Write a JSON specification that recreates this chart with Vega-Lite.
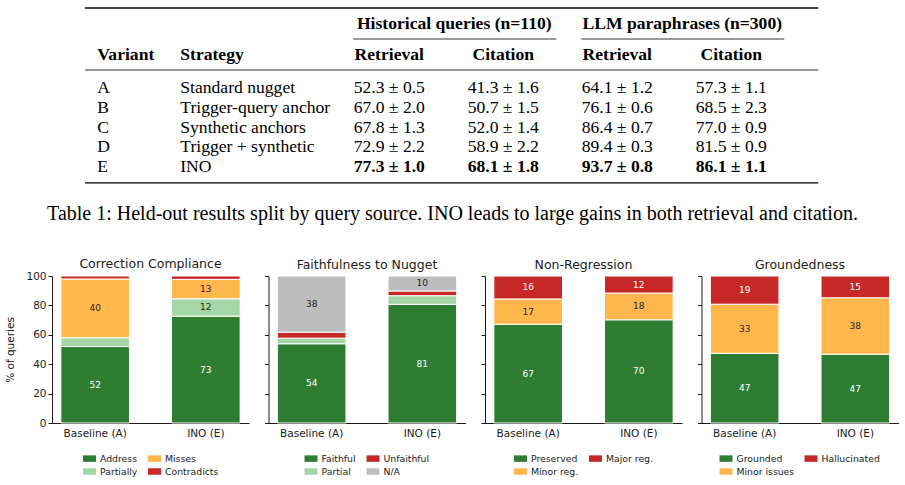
{
  "$schema": "https://vega.github.io/schema/vega-lite/v6.json",
  "padding": {"left": 5, "right": 5, "top": 7, "bottom": 5},
  "datasets": {
    "results": [
      {"variant": "A", "strategy": "Standard nugget", "hist_retrieval": "52.3 ± 0.5", "hist_citation": "41.3 ± 1.6", "llm_retrieval": "64.1 ± 1.2", "llm_citation": "57.3 ± 1.1"},
      {"variant": "B", "strategy": "Trigger-query anchor", "hist_retrieval": "67.0 ± 2.0", "hist_citation": "50.7 ± 1.5", "llm_retrieval": "76.1 ± 0.6", "llm_citation": "68.5 ± 2.3"},
      {"variant": "C", "strategy": "Synthetic anchors", "hist_retrieval": "67.8 ± 1.3", "hist_citation": "52.0 ± 1.4", "llm_retrieval": "86.4 ± 0.7", "llm_citation": "77.0 ± 0.9"},
      {"variant": "D", "strategy": "Trigger + synthetic", "hist_retrieval": "72.9 ± 2.2", "hist_citation": "58.9 ± 2.2", "llm_retrieval": "89.4 ± 0.3", "llm_citation": "81.5 ± 0.9"},
      {"variant": "E", "strategy": "INO", "hist_retrieval": "77.3 ± 1.0", "hist_citation": "68.1 ± 1.8", "llm_retrieval": "93.7 ± 0.8", "llm_citation": "86.1 ± 1.1"}
    ],
    "header": [
      {"row": "group", "col": "hist_citation", "label": "Historical queries (n=110)"},
      {"row": "group", "col": "llm_citation", "label": "LLM paraphrases (n=300)"},
      {"row": "head", "col": "variant", "label": "Variant"},
      {"row": "head", "col": "strategy", "label": "Strategy"},
      {"row": "head", "col": "hist_retrieval", "label": "Retrieval"},
      {"row": "head", "col": "hist_citation", "label": "Citation"},
      {"row": "head", "col": "llm_retrieval", "label": "Retrieval"},
      {"row": "head", "col": "llm_citation", "label": "Citation"}
    ],
    "spans": [
      {"row": "group", "from": "hist_retrieval", "to": "hist_citation"},
      {"row": "group", "from": "llm_retrieval", "to": "llm_citation"}
    ],
    "bars": [
      {"panel": "Correction Compliance", "system": "Baseline (A)", "category": "Address", "k": 0, "pct": 52},
      {"panel": "Correction Compliance", "system": "Baseline (A)", "category": "Partially", "k": 1, "pct": 6},
      {"panel": "Correction Compliance", "system": "Baseline (A)", "category": "Misses", "k": 2, "pct": 40},
      {"panel": "Correction Compliance", "system": "Baseline (A)", "category": "Contradicts", "k": 3, "pct": 2},
      {"panel": "Correction Compliance", "system": "INO (E)", "category": "Address", "k": 0, "pct": 72.7},
      {"panel": "Correction Compliance", "system": "INO (E)", "category": "Partially", "k": 1, "pct": 11.8},
      {"panel": "Correction Compliance", "system": "INO (E)", "category": "Misses", "k": 2, "pct": 13.2},
      {"panel": "Correction Compliance", "system": "INO (E)", "category": "Contradicts", "k": 3, "pct": 2.3},
      {"panel": "Faithfulness to Nugget", "system": "Baseline (A)", "category": "Faithful", "k": 0, "pct": 53.9},
      {"panel": "Faithfulness to Nugget", "system": "Baseline (A)", "category": "Partial", "k": 1, "pct": 3.8},
      {"panel": "Faithfulness to Nugget", "system": "Baseline (A)", "category": "Unfaithful", "k": 2, "pct": 4.1},
      {"panel": "Faithfulness to Nugget", "system": "Baseline (A)", "category": "N/A", "k": 3, "pct": 38.2},
      {"panel": "Faithfulness to Nugget", "system": "INO (E)", "category": "Faithful", "k": 0, "pct": 80.7},
      {"panel": "Faithfulness to Nugget", "system": "INO (E)", "category": "Partial", "k": 1, "pct": 5.9},
      {"panel": "Faithfulness to Nugget", "system": "INO (E)", "category": "Unfaithful", "k": 2, "pct": 3.2},
      {"panel": "Faithfulness to Nugget", "system": "INO (E)", "category": "N/A", "k": 3, "pct": 10.2},
      {"panel": "Non-Regression", "system": "Baseline (A)", "category": "Preserved", "k": 0, "pct": 67.2},
      {"panel": "Non-Regression", "system": "Baseline (A)", "category": "Minor reg.", "k": 1, "pct": 17.2},
      {"panel": "Non-Regression", "system": "Baseline (A)", "category": "Major reg.", "k": 2, "pct": 15.6},
      {"panel": "Non-Regression", "system": "INO (E)", "category": "Preserved", "k": 0, "pct": 70.2},
      {"panel": "Non-Regression", "system": "INO (E)", "category": "Minor reg.", "k": 1, "pct": 18.2},
      {"panel": "Non-Regression", "system": "INO (E)", "category": "Major reg.", "k": 2, "pct": 11.6},
      {"panel": "Groundedness", "system": "Baseline (A)", "category": "Grounded", "k": 0, "pct": 47.4},
      {"panel": "Groundedness", "system": "Baseline (A)", "category": "Minor issues", "k": 1, "pct": 33.4},
      {"panel": "Groundedness", "system": "Baseline (A)", "category": "Hallucinated", "k": 2, "pct": 19.2},
      {"panel": "Groundedness", "system": "INO (E)", "category": "Grounded", "k": 0, "pct": 46.8},
      {"panel": "Groundedness", "system": "INO (E)", "category": "Minor issues", "k": 1, "pct": 38.4},
      {"panel": "Groundedness", "system": "INO (E)", "category": "Hallucinated", "k": 2, "pct": 14.8}
    ]
  },
  "concat": [
    {
      "spacing": 0,
      "vconcat": [
        {
          "width": 801,
          "height": 62,
          "layer": [
            {
              "data": {"name": "header"},
              "transform": [{"filter": "datum.row === 'group'"}],
              "mark": {"type": "text", "font": "Liberation Serif", "fontSize": 17.6, "fontWeight": "bold", "color": "black", "baseline": "middle", "dx": 8},
              "encoding": {
                "x": {"field": "col", "type": "nominal", "bandPosition": 0, "axis": null,
                      "scale": {"type": "band", "domain": ["variant", "strategy", "hist_retrieval", "hist_citation", "llm_retrieval", "llm_citation"], "paddingInner": 0, "paddingOuter": 0.5132, "align": 0.4466}},
                "y": {"field": "row", "type": "nominal", "axis": null, "scale": {"type": "band", "domain": ["group", "head"], "paddingInner": 0, "paddingOuter": 0}},
                "text": {"field": "label"}
              }
            },
            {
              "data": {"name": "header"},
              "transform": [{"filter": "datum.col === 'variant'"}],
              "mark": {"type": "text", "font": "Liberation Serif", "fontSize": 17.6, "fontWeight": "bold", "color": "black", "baseline": "middle", "align": "left", "dx": -7},
              "encoding": {
                "x": {"field": "col", "type": "nominal", "bandPosition": 0, "axis": null},
                "y": {"field": "row", "type": "nominal", "axis": null},
                "text": {"field": "label"}
              }
            },
            {
              "data": {"name": "header"},
              "transform": [{"filter": "datum.col === 'strategy'"}],
              "mark": {"type": "text", "font": "Liberation Serif", "fontSize": 17.6, "fontWeight": "bold", "color": "black", "baseline": "middle", "align": "left", "dx": -38},
              "encoding": {
                "x": {"field": "col", "type": "nominal", "bandPosition": 0, "axis": null},
                "y": {"field": "row", "type": "nominal", "axis": null},
                "text": {"field": "label"}
              }
            },
            {
              "data": {"name": "header"},
              "transform": [{"filter": "datum.row === 'head' && datum.col !== 'variant' && datum.col !== 'strategy'"}],
              "mark": {"type": "text", "font": "Liberation Serif", "fontSize": 17.6, "fontWeight": "bold", "color": "black", "baseline": "middle"},
              "encoding": {
                "x": {"field": "col", "type": "nominal", "bandPosition": 0.5, "axis": null},
                "y": {"field": "row", "type": "nominal", "axis": null},
                "text": {"field": "label"}
              }
            },
            {
              "data": {"name": "spans"},
              "mark": {"type": "rule", "color": "black", "strokeWidth": 0.8, "xOffset": 21, "x2Offset": -4},
              "encoding": {
                "x": {"field": "from", "type": "nominal", "bandPosition": 0, "axis": null},
                "x2": {"field": "to", "bandPosition": 1},
                "y": {"field": "row", "type": "nominal", "bandPosition": 1, "axis": null}
              }
            },
            {
              "data": {"values": [{"row": "group", "from": "variant", "to": "llm_citation"}]},
              "mark": {"type": "rule", "color": "black", "strokeWidth": 1.3, "xOffset": -19.25, "x2Offset": 30},
              "encoding": {
                "x": {"field": "from", "type": "nominal", "bandPosition": 0, "axis": null},
                "x2": {"field": "to", "bandPosition": 1},
                "y": {"field": "row", "type": "nominal", "bandPosition": 0, "axis": null}
              }
            },
            {
              "data": {"values": [{"row": "head", "from": "variant", "to": "llm_citation"}]},
              "mark": {"type": "rule", "color": "black", "strokeWidth": 0.8, "xOffset": -19.25, "x2Offset": 30},
              "encoding": {
                "x": {"field": "from", "type": "nominal", "bandPosition": 0, "axis": null},
                "x2": {"field": "to", "bandPosition": 1},
                "y": {"field": "row", "type": "nominal", "bandPosition": 1, "axis": null}
              }
            }
          ]
        },
        {
          "width": 801,
          "height": 113,
          "data": {"name": "results"},
          "title": {
            "text": "Table 1: Held-out results split by query source. INO leads to large gains in both retrieval and citation.",
            "orient": "bottom", "anchor": "middle", "font": "Liberation Serif", "fontSize": 20, "fontWeight": "normal", "color": "black", "offset": 20
          },
          "encoding": {
            "y": {"field": "variant", "type": "nominal", "axis": null, "scale": {"type": "band", "domain": ["A", "B", "C", "D", "E"], "paddingInner": 0, "paddingOuter": 0.365}}
          },
          "layer": [
            {
              "transform": [{"fold": ["variant"], "as": ["col", "cell"]}],
              "mark": {"type": "text", "font": "Liberation Serif", "fontSize": 17.6, "color": "black", "baseline": "middle", "align": "left", "dx": -7},
              "encoding": {
                "x": {"field": "col", "type": "nominal", "bandPosition": 0, "axis": null,
                      "scale": {"type": "band", "domain": ["variant", "strategy", "hist_retrieval", "hist_citation", "llm_retrieval", "llm_citation"], "paddingInner": 0, "paddingOuter": 0.5132, "align": 0.4466}},
                "text": {"field": "cell"}
              }
            },
            {
              "transform": [{"fold": ["strategy"], "as": ["col", "cell"]}],
              "mark": {"type": "text", "font": "Liberation Serif", "fontSize": 17.6, "color": "black", "baseline": "middle", "align": "left", "dx": -38},
              "encoding": {
                "x": {"field": "col", "type": "nominal", "bandPosition": 0, "axis": null},
                "text": {"field": "cell"}
              }
            },
            {
              "transform": [
                {"filter": "datum.variant !== 'E'"},
                {"fold": ["hist_retrieval", "hist_citation", "llm_retrieval", "llm_citation"], "as": ["col", "cell"]}
              ],
              "mark": {"type": "text", "font": "Liberation Serif", "fontSize": 17.6, "color": "black", "baseline": "middle"},
              "encoding": {
                "x": {"field": "col", "type": "nominal", "bandPosition": 0.5, "axis": null},
                "text": {"field": "cell"}
              }
            },
            {
              "transform": [
                {"filter": "datum.variant === 'E'"},
                {"fold": ["hist_retrieval", "hist_citation", "llm_retrieval", "llm_citation"], "as": ["col", "cell"]}
              ],
              "mark": {"type": "text", "font": "Liberation Serif", "fontSize": 17.6, "fontWeight": "bold", "color": "black", "baseline": "middle"},
              "encoding": {
                "x": {"field": "col", "type": "nominal", "bandPosition": 0.5, "axis": null},
                "text": {"field": "cell"}
              }
            },
            {
              "data": {"values": [{"variant": "E", "from": "variant", "to": "llm_citation"}]},
              "mark": {"type": "rule", "color": "black", "strokeWidth": 1.3, "xOffset": -19.25, "x2Offset": 30, "yOffset": 6},
              "encoding": {
                "x": {"field": "from", "type": "nominal", "bandPosition": 0, "axis": null},
                "x2": {"field": "to", "bandPosition": 1},
                "y": {"field": "variant", "type": "nominal", "bandPosition": 1, "axis": null}
              }
            }
          ]
        }
      ]
    },
    {
      "spacing": 14.5,
      "resolve": {"scale": {"color": "independent", "y": "independent", "x": "independent"}, "legend": {"color": "independent"}},
      "hconcat": [
        {
          "width": 197, "height": 147,
          "title": {"text": "Correction Compliance", "offset": 1},
          "data": {"name": "bars"},
          "transform": [{"filter": "datum.panel === 'Correction Compliance'"}],
          "encoding": {
            "x": {"field": "system", "type": "nominal", "sort": ["Baseline (A)", "INO (E)"], "scale": {"paddingInner": 0.38, "paddingOuter": 0.08},
                  "axis": {"title": null, "labelAngle": 0, "ticks": false, "labelPadding": 5}},
            "y": {"field": "pct", "type": "quantitative", "stack": "zero", "scale": {"domain": [0, 100]},
                  "axis": {"title": "% of queries", "values": [0, 20, 40, 60, 80, 100], "tickSize": 4, "labelPadding": 2, "titlePadding": 10}},
            "order": {"field": "k", "type": "quantitative"}
          },
          "layer": [
            {
              "mark": {"type": "bar", "stroke": "white", "strokeWidth": 1},
              "encoding": {
                "color": {"field": "category", "type": "nominal",
                          "scale": {"domain": ["Address", "Misses", "Partially", "Contradicts"], "range": ["#2e7d32", "#ffb74d", "#a5d6a7", "#c62828"]},
                          "legend": {"title": null}}
              }
            },
            {
              "mark": {"type": "text", "font": "DejaVu Sans", "fontSize": 9, "baseline": "middle"},
              "encoding": {
                "y": {"field": "pct", "type": "quantitative", "stack": "zero", "bandPosition": 0.5},
                "detail": {"field": "category"},
                "text": {"field": "pct", "type": "quantitative", "format": ".0f", "condition": {"test": "datum.pct < 8", "value": ""}},
                "color": {"condition": {"test": "indexof(['Address','Contradicts','Faithful','Unfaithful','Preserved','Major reg.','Grounded','Hallucinated'], datum.category) >= 0", "value": "white"}, "value": "#262626"}
              }
            }
          ]
        },
        {
          "width": 197, "height": 147,
          "title": {"text": "Faithfulness to Nugget", "offset": 4},
          "data": {"name": "bars"},
          "transform": [{"filter": "datum.panel === 'Faithfulness to Nugget'"}],
          "encoding": {
            "x": {"field": "system", "type": "nominal", "sort": ["Baseline (A)", "INO (E)"], "scale": {"paddingInner": 0.38, "paddingOuter": 0.08},
                  "axis": {"title": null, "labelAngle": 0, "ticks": false, "labelPadding": 5}},
            "y": {"field": "pct", "type": "quantitative", "stack": "zero", "scale": {"domain": [0, 100]},
                  "axis": {"title": null, "labels": false, "values": [0, 20, 40, 60, 80, 100], "tickSize": 4}},
            "order": {"field": "k", "type": "quantitative"}
          },
          "layer": [
            {
              "mark": {"type": "bar", "stroke": "white", "strokeWidth": 1},
              "encoding": {
                "color": {"field": "category", "type": "nominal",
                          "scale": {"domain": ["Faithful", "Unfaithful", "Partial", "N/A"], "range": ["#2e7d32", "#c62828", "#a5d6a7", "#bdbdbd"]},
                          "legend": {"title": null}}
              }
            },
            {
              "mark": {"type": "text", "font": "DejaVu Sans", "fontSize": 9, "baseline": "middle"},
              "encoding": {
                "y": {"field": "pct", "type": "quantitative", "stack": "zero", "bandPosition": 0.5},
                "detail": {"field": "category"},
                "text": {"field": "pct", "type": "quantitative", "format": ".0f", "condition": {"test": "datum.pct < 8", "value": ""}},
                "color": {"condition": {"test": "indexof(['Address','Contradicts','Faithful','Unfaithful','Preserved','Major reg.','Grounded','Hallucinated'], datum.category) >= 0", "value": "white"}, "value": "#262626"}
              }
            }
          ]
        },
        {
          "width": 197, "height": 147,
          "title": {"text": "Non-Regression", "offset": 4},
          "data": {"name": "bars"},
          "transform": [{"filter": "datum.panel === 'Non-Regression'"}],
          "encoding": {
            "x": {"field": "system", "type": "nominal", "sort": ["Baseline (A)", "INO (E)"], "scale": {"paddingInner": 0.38, "paddingOuter": 0.08},
                  "axis": {"title": null, "labelAngle": 0, "ticks": false, "labelPadding": 5}},
            "y": {"field": "pct", "type": "quantitative", "stack": "zero", "scale": {"domain": [0, 100]},
                  "axis": {"title": null, "labels": false, "values": [0, 20, 40, 60, 80, 100], "tickSize": 4}},
            "order": {"field": "k", "type": "quantitative"}
          },
          "layer": [
            {
              "mark": {"type": "bar", "stroke": "white", "strokeWidth": 1},
              "encoding": {
                "color": {"field": "category", "type": "nominal",
                          "scale": {"domain": ["Preserved", "Major reg.", "Minor reg."], "range": ["#2e7d32", "#c62828", "#ffb74d"]},
                          "legend": {"title": null}}
              }
            },
            {
              "mark": {"type": "text", "font": "DejaVu Sans", "fontSize": 9, "baseline": "middle"},
              "encoding": {
                "y": {"field": "pct", "type": "quantitative", "stack": "zero", "bandPosition": 0.5},
                "detail": {"field": "category"},
                "text": {"field": "pct", "type": "quantitative", "format": ".0f", "condition": {"test": "datum.pct < 8", "value": ""}},
                "color": {"condition": {"test": "indexof(['Address','Contradicts','Faithful','Unfaithful','Preserved','Major reg.','Grounded','Hallucinated'], datum.category) >= 0", "value": "white"}, "value": "#262626"}
              }
            }
          ]
        },
        {
          "width": 197, "height": 147,
          "title": {"text": "Groundedness", "offset": 4},
          "data": {"name": "bars"},
          "transform": [{"filter": "datum.panel === 'Groundedness'"}],
          "encoding": {
            "x": {"field": "system", "type": "nominal", "sort": ["Baseline (A)", "INO (E)"], "scale": {"paddingInner": 0.38, "paddingOuter": 0.08},
                  "axis": {"title": null, "labelAngle": 0, "ticks": false, "labelPadding": 5}},
            "y": {"field": "pct", "type": "quantitative", "stack": "zero", "scale": {"domain": [0, 100]},
                  "axis": {"title": null, "labels": false, "values": [0, 20, 40, 60, 80, 100], "tickSize": 4}},
            "order": {"field": "k", "type": "quantitative"}
          },
          "layer": [
            {
              "mark": {"type": "bar", "stroke": "white", "strokeWidth": 1},
              "encoding": {
                "color": {"field": "category", "type": "nominal",
                          "scale": {"domain": ["Grounded", "Hallucinated", "Minor issues"], "range": ["#2e7d32", "#c62828", "#ffb74d"]},
                          "legend": {"title": null}}
              }
            },
            {
              "mark": {"type": "text", "font": "DejaVu Sans", "fontSize": 9, "baseline": "middle"},
              "encoding": {
                "y": {"field": "pct", "type": "quantitative", "stack": "zero", "bandPosition": 0.5},
                "detail": {"field": "category"},
                "text": {"field": "pct", "type": "quantitative", "format": ".0f", "condition": {"test": "datum.pct < 8", "value": ""}},
                "color": {"condition": {"test": "indexof(['Address','Contradicts','Faithful','Unfaithful','Preserved','Major reg.','Grounded','Hallucinated'], datum.category) >= 0", "value": "white"}, "value": "#262626"}
              }
            }
          ]
        }
      ]
    }
  ],
  "columns": 1,
  "spacing": 33,
  "resolve": {"scale": {"color": "independent", "x": "independent", "y": "independent"}, "legend": {"color": "independent"}},
  "config": {
    "view": {"stroke": null},
    "font": "DejaVu Sans",
    "axis": {
      "grid": false, "domainColor": "black", "domainWidth": 0.9, "tickColor": "black", "tickWidth": 0.9,
      "labelFont": "DejaVu Sans", "labelFontSize": 10.5, "labelColor": "#1a1a1a",
      "titleFont": "DejaVu Sans", "titleFontSize": 10.5, "titleFontWeight": "normal", "titleColor": "#1a1a1a"
    },
    "title": {"font": "DejaVu Sans", "fontSize": 12.5, "fontWeight": "normal", "color": "#1a1a1a"},
    "legend": {
      "orient": "bottom", "direction": "horizontal", "columns": 2, "offset": 13,
      "symbolType": "M-1,-0.5H1V0.5H-1Z", "symbolSize": 169, "symbolStrokeWidth": 0, "symbolOpacity": 1,
      "labelFont": "DejaVu Sans", "labelFontSize": 9.3, "labelColor": "#1a1a1a", "labelOffset": 4,
      "columnPadding": 10, "rowPadding": 1,
      "layout": {"anchor": "middle"}
    }
  }
}
